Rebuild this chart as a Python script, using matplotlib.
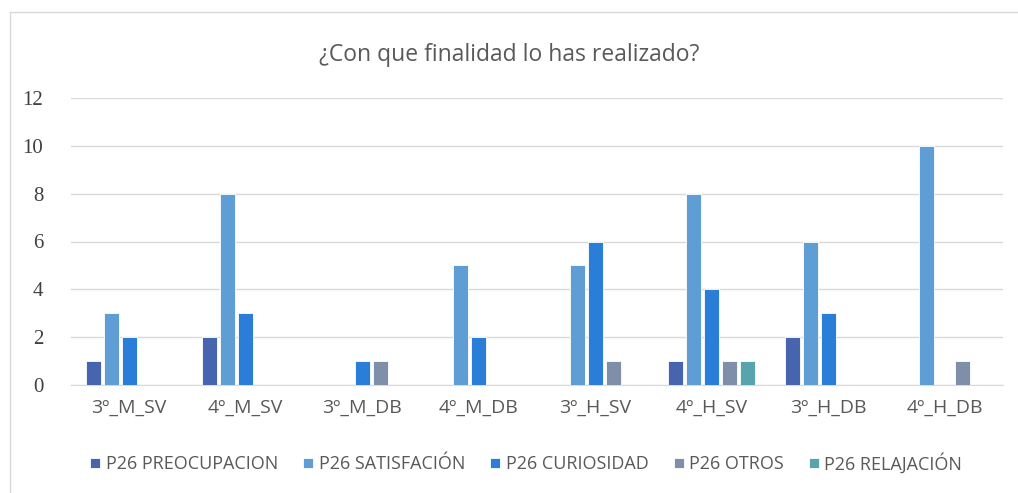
import numpy as np
import matplotlib.pyplot as plt
from matplotlib.patches import Rectangle

categorias = ['3º_M_SV', '4º_M_SV', '3º_M_DB', '4º_M_DB', '3º_H_SV', '4º_H_SV', '3º_H_DB', '4º_H_DB']
series = ['P26 PREOCUPACION', 'P26 SATISFACIÓN', 'P26 CURIOSIDAD', 'P26 OTROS', 'P26 RELAJACIÓN']
preocupacion = [1, 2, 0, 0, 0, 1, 2, 0]
satisfacion = [3, 8, 0, 5, 5, 8, 6, 10]
curiosidad = [2, 3, 1, 2, 6, 4, 3, 0]
otros = [0, 0, 1, 0, 1, 1, 0, 1]
relajacion = [0, 0, 0, 0, 0, 1, 0, 0]
colores = ['#4765AE', '#5F9ED4', '#2A7ED8', '#7F8FAA', '#58A4AE']
yticks = list(range(0, 13, 2))

valores = [preocupacion, satisfacion, curiosidad, otros, relajacion]

fig = plt.figure(figsize=(10.18, 4.93), dpi=100)
ax = fig.add_axes([71/1018, 1 - 385/493, (1003-71)/1018, (385-98)/493])

# marco del grafico
fig.patches.append(Rectangle((10/1018, -0.05), 1.2, 1 - 12/493 + 0.05, transform=fig.transFigure,
                             fill=False, edgecolor='#D9D9D9', linewidth=1))

x = np.arange(len(categorias))
paso = 0.155
ancho = 0.128
for i, (nombre, vals) in enumerate(zip(series, valores)):
    ax.bar(x + (i - 2) * paso, vals, ancho, color=colores[i], label=nombre,
           edgecolor='white', linewidth=0.6, zorder=3)

ax.set_xlim(-0.5, len(categorias) - 0.5)
ax.set_ylim(0, 12)
ax.set_yticks(yticks)
ax.set_yticklabels([str(v) for v in yticks], fontsize=15, color='#404040',
                   family='Liberation Serif')
ax.set_xticks(x)
ax.set_xticklabels(categorias, fontsize=14, color='#595959', family=['Open Sans', 'DejaVu Sans'])
ax.grid(axis='y', color='#D9D9D9', linewidth=1, zorder=0)
for s in ['top', 'right', 'left']:
    ax.spines[s].set_visible(False)
ax.spines['bottom'].set_color('#D9D9D9')
ax.tick_params(axis='both', length=0)
ax.tick_params(axis='x', pad=10)
ax.tick_params(axis='y', pad=20)

fig.text(0.5, 1 - 55/493, '¿Con que finalidad lo has realizado?', ha='center', va='center',
         fontsize=16.5, color='#595959', family='Open Sans')

fig.legend(loc='center', bbox_to_anchor=(0.517, 1 - 463/493), ncol=5, frameon=False,
           prop={'family': 'Open Sans', 'size': 13}, handlelength=0.55, handleheight=0.55,
           handletextpad=0.3, columnspacing=1.4, labelcolor='#595959')

fig.savefig('out.png', dpi=100)
